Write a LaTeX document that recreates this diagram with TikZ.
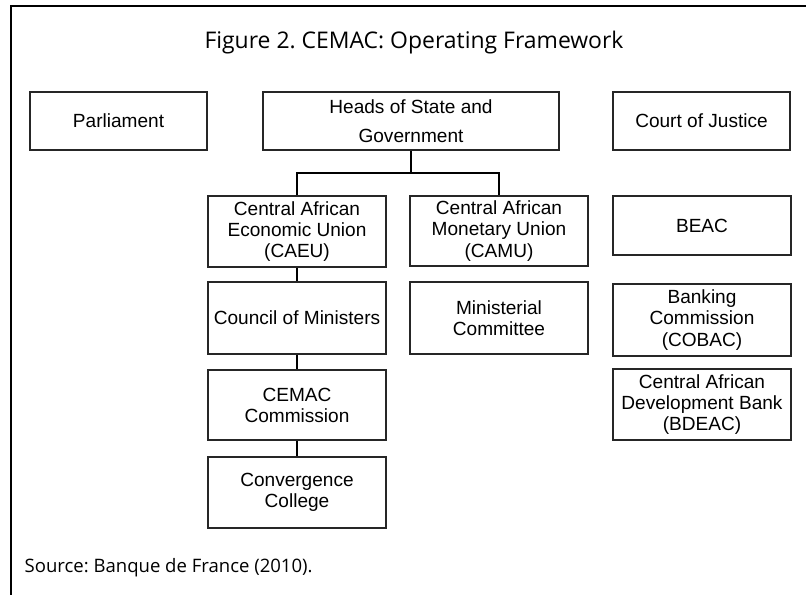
\documentclass[tikz,border=0pt]{standalone}
\usepackage{fontspec}
\setmainfont{Liberation Sans}
\newfontfamily\capfont{Open Sans}
\usetikzlibrary{calc}
\frenchspacing

\tikzset{
    orgbox/.style={draw=black!85, line width=1pt, align=center, inner sep=1pt,
        font=\fontsize{14.3}{15.8}\selectfont},
    boxsize/.style 2 args={minimum width=#1*0.75pt, minimum height=#2*0.75pt},
}

\begin{document}
\begin{tikzpicture}[x=0.75pt, y=-0.75pt]
    %% page size
    \useasboundingbox (0,0) rectangle (806,595);

    %% define widths
    \def\Wn{178}
    \def\Wh{296}

    %% frame
    \draw[line width=2.2pt] (11,595) -- (11,6) -- (806,6);

    %% title and source
    \node (title) at (414,43) {\capfont\fontsize{17.2}{20}\selectfont Figure 2. CEMAC: Operating Framework};
    \node[anchor=west] (source) at (20,568) {\capfont\fontsize{13.9}{16}\selectfont Source: Banque de France (2010).};

    %% top row
    \node[orgbox, boxsize={177}{58}] (parl) at (118.5,121) {Parliament};
    \node[orgbox, boxsize={\Wh}{58}] (heads) at (411,121) {Heads of State and\\[6pt]Government};
    \node[orgbox, boxsize={177}{58}] (court) at (701.5,121) {Court of Justice};

    %% economic union column
    \node[orgbox, boxsize={\Wn}{71}] (caeu) at (297,231.5) {Central African\\Economic Union\\(CAEU)};
    \node[orgbox, boxsize={\Wn}{72}] (council) at (297,318) {Council of Ministers};
    \node[orgbox, boxsize={\Wn}{70}] (commission) at (297,405) {CEMAC\\Commission};
    \node[orgbox, boxsize={\Wn}{71}] (college) at (297,492.5) {Convergence\\College};

    %% monetary union column
    \node[orgbox, boxsize={\Wn}{70}] (camu) at (499,231) {Central African\\Monetary Union\\(CAMU)};
    \node[orgbox, boxsize={\Wn}{72}] (minist) at (499,318) {Ministerial\\Committee};

    %% right column
    \node[orgbox, boxsize={\Wn}{59}] (beac) at (702,225.5) {BEAC};
    \node[orgbox, boxsize={\Wn}{72}] (cobac) at (702,320) {Banking\\Commission\\(COBAC)};
    \node[orgbox, boxsize={\Wn}{71}] (bdeac) at (702,404.5) {Central African\\Development Bank\\(BDEAC)};

    %% connectors
    \coordinate (fork) at (411,173);
    \draw[line width=1pt] (heads.south) -- (fork);
    \draw[line width=1pt] (caeu.north) |- (fork) -| (camu.north);
    \draw[line width=1pt] (caeu) -- (council);
    \draw[line width=1pt] (council) -- (commission);
    \draw[line width=1pt] (commission) -- (college);
\end{tikzpicture}
\end{document}
